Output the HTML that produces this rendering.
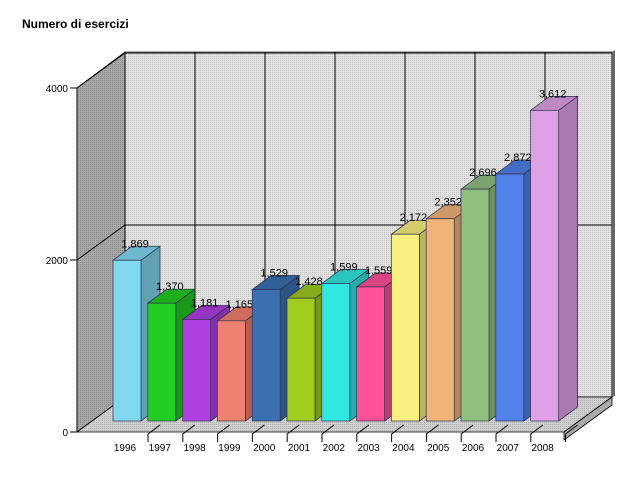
<!DOCTYPE html>
<html><head><meta charset="utf-8"><style>
body{margin:0;background:#fff;width:640px;height:480px;overflow:hidden}
svg{font-family:"Liberation Sans",sans-serif}
</style></head><body>
<svg id="c" width="640" height="480">
<defs>
<pattern id="dots" width="2" height="2" patternUnits="userSpaceOnUse"><rect width="2" height="2" fill="#e2e2e2"/><rect width="1" height="1" fill="#c4c4c4"/></pattern>
<pattern id="dotsF" width="2" height="2" patternUnits="userSpaceOnUse"><rect width="2" height="2" fill="#d0d0d0"/><rect width="1" height="1" fill="#b0b0b0"/></pattern>
<pattern id="dots2" width="2" height="2" patternUnits="userSpaceOnUse"><rect width="2" height="2" fill="#a8a8a8"/><rect width="1" height="1" fill="#888"/></pattern>
</defs>
<text x="22" y="28" font-size="12" font-weight="bold">Numero di esercizi</text>
<polygon points="77,88 125,52 125,397 77,432" fill="url(#dots2)" stroke="#000" stroke-width="0.8"/>
<rect x="125" y="52" width="487" height="345" fill="url(#dots)" stroke="#000" stroke-width="1"/>
<line x1="125" y1="52" x2="612" y2="52" stroke="#666" stroke-width="1"/>
<polygon points="612,52 615,50 615,396 612,397" fill="#666"/>
<polygon points="77,432 125,397 612,397 564,432" fill="url(#dotsF)" stroke="#000" stroke-width="0.8"/>
<polygon points="564,432 612,397 612,405 564,440" fill="#aaa" stroke="#000" stroke-width="0.8"/>
<g id="grid"></g><g id="axis"></g><g id="bars"></g>
</svg>
<script>
const categories=["1996","1997","1998","1999","2000","2001","2002","2003","2004","2005","2006","2007","2008"];
const values=[1869,1370,1181,1165,1529,1428,1599,1559,2172,2352,2696,2872,3612];
const colors=["#80d8f0","#22cc22","#b040e0","#f08070","#3a70b0","#a0cc20","#30e8e0","#ff5098","#f8f080","#f0b478","#90c080","#5080e8","#e0a0e8"];
const yTicks=[0,2000,4000];
const NS="http://www.w3.org/2000/svg";
const k=86/1000, base0=432, dx=48, dy=-35;
function yF(v){return base0-v*k;}
function mk(t,a,p){const e=document.createElementNS(NS,t);for(const n in a)e.setAttribute(n,a[n]);p.appendChild(e);return e;}
const grid=document.getElementById('grid'),axis=document.getElementById('axis'),bars=document.getElementById('bars');
for(let i=1;i<7;i++){const x=125+70*i;const l=mk('line',{x1:x,y1:52,x2:x,y2:397,stroke:'#000'},grid);

}
yTicks.forEach(v=>{const y=yF(v);
if(v>0){const g=mk('polyline',{points:`77,${y} 125,${y+dy} 612,${y+dy}`,fill:'none',stroke:'#000'},grid);

}
const t=mk('line',{x1:70,y1:y,x2:77,y2:y,stroke:'#000'},axis);


const tx=mk('text',{x:68,y:y+4,'font-size':10,'text-anchor':'end'},axis);tx.textContent=v;

});
const ax=mk('line',{x1:77,y1:88,x2:77,y2:432,stroke:'#000'},axis);


const step=34.8, x0=113, w=28, bdx=19, bdy=-14, bb=421;
categories.forEach((c,i)=>{const x=x0+i*step;const yt=bb-values[i]*k;
const g=mk('g',{},bars);


mk('polygon',{points:`${x+w},${bb} ${x+w},${yt} ${x+w+bdx},${yt+bdy} ${x+w+bdx},${bb+bdy}`,fill:colors[i],stroke:'#335',"stroke-width":0.7,style:'filter:brightness(0.75)'},g);
mk('polygon',{points:`${x},${yt} ${x+bdx},${yt+bdy} ${x+w+bdx},${yt+bdy} ${x+w},${yt}`,fill:colors[i],stroke:'#335',"stroke-width":0.7,style:'filter:brightness(0.85)'},g);
mk('rect',{x:x,y:yt,width:w,height:bb-yt,fill:colors[i],stroke:'#335',"stroke-width":0.7},g);
const lb=mk('text',{x:x+22,y:yt-13,'font-size':11,'text-anchor':'middle'},bars);lb.textContent=values[i].toLocaleString('en-US');


const cl=mk('text',{x:x+12,y:451,'font-size':10,'text-anchor':'middle'},axis);cl.textContent=c;


const tk=mk('polyline',{points:`${x+35},${442} ${x+35},${434} ${x+47},${425}`,fill:'none',stroke:'#000'},axis);


});
</script>
</body></html>
